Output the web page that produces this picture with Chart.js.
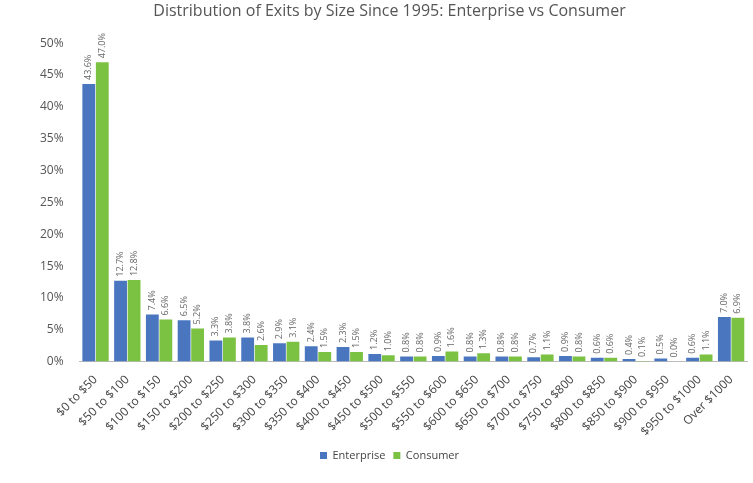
<!DOCTYPE html>
<html><head><meta charset="utf-8">
<script src="https://cdn.jsdelivr.net/npm/chart.js@4"></script>
<style>html,body{margin:0;padding:0;background:#fff}#w{width:753px;height:483px}</style>
</head><body><div id="w"><canvas id="c"></canvas></div>
<script>
const categories=["$0 to $50","$50 to $100","$100 to $150","$150 to $200","$200 to $250","$250 to $300","$300 to $350","$350 to $400","$400 to $450","$450 to $500","$500 to $550","$550 to $600","$600 to $650","$650 to $700","$700 to $750","$750 to $800","$800 to $850","$850 to $900","$900 to $950","$950 to $1000","Over $1000"];
const enterprise=[43.6,12.7,7.4,6.5,3.3,3.8,2.9,2.4,2.3,1.2,0.8,0.9,0.8,0.8,0.7,0.9,0.6,0.4,0.5,0.6,7.0];
const consumer=[47.0,12.8,6.6,5.2,3.8,2.6,3.1,1.5,1.5,1.0,0.8,1.6,1.3,0.8,1.1,0.8,0.6,0.1,0.0,1.1,6.9];
const labelPlugin={id:'lbl',afterDatasetsDraw(ch){const ctx=ch.ctx;ctx.save();ctx.font='9px "Open Sans"';ctx.fillStyle='#666';ctx.textAlign='left';ctx.textBaseline='middle';
ch.data.datasets.forEach((ds,i)=>{ch.getDatasetMeta(i).data.forEach((b,j)=>{ctx.save();ctx.translate(b.x,b.y-4);ctx.rotate(-Math.PI/2);ctx.fillText(ds.data[j].toFixed(1)+'%',0,0);ctx.restore();});});ctx.restore();}};
Chart.defaults.font.family='"Open Sans", sans-serif';
new Chart(document.getElementById('c'),{type:'bar',data:{labels:categories,datasets:[
{label:'Enterprise',data:enterprise,backgroundColor:'#4a76c0'},
{label:'Consumer',data:consumer,backgroundColor:'#7cc242'}]},
options:{responsive:true,maintainAspectRatio:false,animation:false,
layout:{padding:{left:32,right:6,top:0,bottom:12}},
datasets:{bar:{categoryPercentage:0.85,barPercentage:0.95}},
plugins:{title:{display:true,text:'Distribution of Exits by Size Since 1995: Enterprise vs Consumer',color:'#555',font:{size:16,weight:'normal'},padding:{top:2,bottom:22}},
legend:{position:'bottom',labels:{boxWidth:7,boxHeight:7,color:'#444',font:{size:11},padding:8}},tooltip:{enabled:false}},
scales:{y:{min:0,max:50,ticks:{stepSize:5,color:'#555',font:{size:12},padding:8,callback:v=>v+'%'},grid:{display:false},border:{display:false}},
x:{ticks:{color:'#444',font:{size:12},maxRotation:45,minRotation:45,autoSkip:false},grid:{display:false},border:{color:'#bbb'}}}},
plugins:[labelPlugin]});
</script></body></html>
